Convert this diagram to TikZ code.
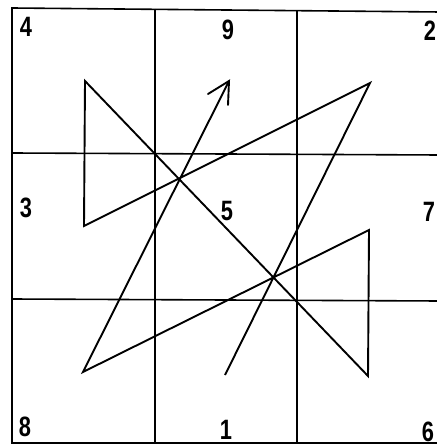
\documentclass[tikz,border=0pt]{standalone}
\usepackage{fontspec}
\setmainfont{Liberation Sans}
\usetikzlibrary{arrows.meta}
\begin{document}
\begin{tikzpicture}[x=1pt,y=-1pt,
  gridline/.style={line width=1.6pt},
  zigzag/.style={line width=1.9pt, line join=miter},
  num/.style={font=\bfseries\fontsize{28}{28}\selectfont, xscale=0.78, inner sep=0pt, anchor=center}]
\useasboundingbox (0,0) rectangle (436,446);
% grid
\draw[gridline] (440,12) -- (12,8) -- (12,443) -- (440,443);
\draw[gridline] (155,9) -- (155,443);
\draw[gridline] (297,11) -- (297,443);
\draw[gridline] (12,153) -- (440,155);
\draw[gridline] (12,299) -- (440,301);
% numbers
\node[num] (n4) at (26,27) {4};
\node[num] (n9) at (228,30) {9};
\node[num] (n2) at (430,31) {2};
\node[num] (n3) at (26,208) {3};
\node[num] (n5) at (227,211) {5};
\node[num] (n7) at (429,212) {7};
\node[num] (n8) at (25,427) {8};
\node[num] (n1) at (226,430) {1};
\node[num] (n6) at (428,432) {6};
% path points
\coordinate (p1) at (225,375);
\coordinate (p2) at (370,83);
\coordinate (p3) at (84,226);
\coordinate (p4) at (85,81);
\coordinate (p6) at (368,376);
\coordinate (p7) at (369,230);
\coordinate (p8) at (83,372);
\coordinate (p9) at (229,81);
\draw[zigzag] (p1) -- (p2) -- (p3) -- (p4) -- (p6) -- (p7) -- (p8) -- (p9);
\draw[zigzag, line cap=round] (208,94) -- (p9) -- (228,105);
\end{tikzpicture}
\end{document}
